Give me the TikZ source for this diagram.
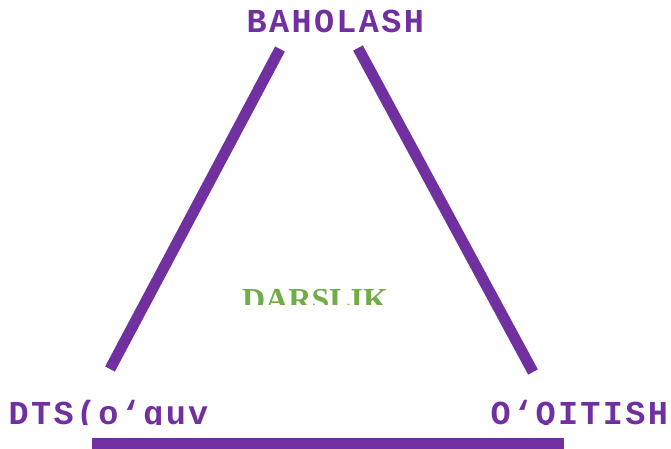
\documentclass[tikz,border=0pt]{standalone}
\usepackage{fontspec}
\newfontfamily\monob{Liberation Mono}[BoldFont={* Bold}, LetterSpace=7]
\newfontfamily\serb{Liberation Serif}[BoldFont={* Bold}]
\definecolor{binafsha}{HTML}{7030A0}
\definecolor{yashil}{HTML}{70AD47}
\tikzset{
  tayoq/.style={line width=11pt, binafsha},
  yozuv/.style={anchor=base west, inner sep=0pt, text=binafsha, font=\monob\bfseries\fontsize{33.5}{33.5}\selectfont},
}
\begin{document}
\begin{tikzpicture}[x=1pt,y=-1pt]
    \useasboundingbox (0,0) rectangle (671,448);
    \clip (0,0) rectangle (671,448);

    \node[yozuv] (baholash) at (246.5,32) {BAHOLASH};
    \begin{scope}
    \clip (0,0) rectangle (671,424);
    \node[yozuv] (dts) at (8.5,424) {DTS(o‘quv};
    \node[yozuv] (oqitish) at (490.5,424) {O‘QITISH};
    \end{scope}
    \begin{scope}
    \clip (0,0) rectangle (671,304);   %% matn pastdan kesilgan
    \node[anchor=base west, inner sep=0pt, text=yashil, font=\serb\bfseries\fontsize{32}{32}\selectfont] (darslik) at (242,310) {DARSLIK};
    \end{scope}

    \coordinate (chapYuqori) at (280,49);
    \coordinate (chapQuyi) at (110,369);
    \coordinate (ongYuqori) at (358,48);
    \coordinate (ongQuyi) at (533,372);
    \coordinate (pastChap) at (92,443.5);
    \coordinate (pastOng) at (564,443.5);

    \draw[tayoq] (chapYuqori) -- (chapQuyi);
    \draw[tayoq] (ongYuqori) -- (ongQuyi);
    \draw[tayoq] (pastChap) -- (pastOng);
\end{tikzpicture}
\end{document}
